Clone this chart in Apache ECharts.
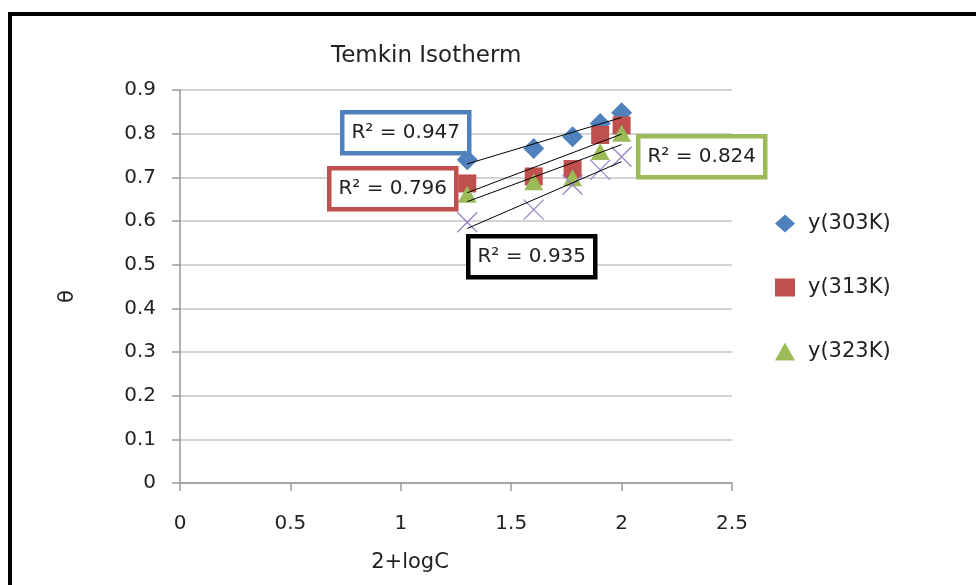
<!DOCTYPE html>
<html>
<head>
<meta charset="utf-8">
<script src="https://cdn.jsdelivr.net/npm/echarts@6/dist/echarts.min.js"></script>
<style>
  html, body { margin: 0; padding: 0; background: #fff; }
  #chart { width: 976px; height: 585px; }
</style>
</head>
<body>
<div id="chart"></div>
<script>
// x values: 2+logC
const logC = [1.301, 1.602, 1.778, 1.903, 2.0];

// theta values per temperature
const theta303 = [0.740, 0.766, 0.793, 0.823, 0.848];
const theta313 = [0.686, 0.702, 0.719, 0.797, 0.819];
const theta323 = [0.661, 0.690, 0.699, 0.759, 0.801];
const theta333 = [0.597, 0.626, 0.683, 0.717, 0.747];

const seriesNames = ["y(303K)", "y(313K)", "y(323K)", "y(333K)"];
const r2Labels = ["R² = 0.947", "R² = 0.796", "R² = 0.824", "R² = 0.935"];

const FONT = "DejaVu Sans";

// least squares line over the x range of the data
function trendLine(xs, ys) {
  const n = xs.length;
  const mx = xs.reduce((a, b) => a + b, 0) / n;
  const my = ys.reduce((a, b) => a + b, 0) / n;
  let sxy = 0, sxx = 0;
  for (let i = 0; i < n; i++) {
    sxy += (xs[i] - mx) * (ys[i] - my);
    sxx += (xs[i] - mx) * (xs[i] - mx);
  }
  const k = sxy / sxx;
  const x0 = Math.min(...xs), x1 = Math.max(...xs);
  return [[x0, my + k * (x0 - mx)], [x1, my + k * (x1 - mx)]];
}

const pairs = (ys) => logC.map((x, i) => [x, ys[i]]);

const chart = echarts.init(document.getElementById("chart"));

function scatter(name, ys, symbol, size, color, extra) {
  return Object.assign({
    name: name,
    type: "scatter",
    data: pairs(ys),
    symbol: symbol,
    symbolSize: size,
    itemStyle: { color: color, opacity: 1 },
    z: 3,
  }, extra || {});
}

function trend(ys) {
  return {
    type: "line",
    data: trendLine(logC, ys),
    symbol: "none",
    lineStyle: { color: "#000", width: 1 },
    silent: true,
    z: 5,
  };
}

function r2Box(text, left, top, border) {
  return {
    type: "group",
    left: left,
    top: top,
    z: 20,
    children: [
      {
        type: "rect",
        z: 20,
        shape: { x: 0, y: 0, width: 127, height: 41 },
        style: { fill: "#fff", stroke: border, lineWidth: 4.5 },
      },
      {
        type: "text",
        z: 21,
        x: 63.5,
        y: 21,
        style: {
          text: text,
          font: "20px '" + FONT + "'",
          fill: "#222",
          align: "center",
          verticalAlign: "middle",
        },
      },
    ],
  };
}

const option = {
  backgroundColor: "#fff",
  animation: false,
  textStyle: { fontFamily: FONT },
  title: {
    text: "Temkin Isotherm",
    left: 326,
    top: 40,
    textStyle: { fontFamily: FONT, fontSize: 23, fontWeight: "normal", color: "#222" },
  },
  grid: { left: 180, right: 244, top: 90, bottom: 102 },
  legend: {
    data: seriesNames.slice(0, 3),
    orient: "vertical",
    left: 770,
    top: 208,
    itemGap: 43,
    itemWidth: 20,
    itemHeight: 18,
    textStyle: { fontFamily: FONT, fontSize: 21, color: "#222", padding: [0, 0, 0, 8] },
  },
  xAxis: {
    type: "value",
    min: 0,
    max: 2.5,
    interval: 0.5,
    name: "2+logC",
    nameLocation: "middle",
    nameGap: 69,
    nameTextStyle: { fontFamily: FONT, fontSize: 21, color: "#222", padding: [0, 92, 0, 0] },
    axisLine: { lineStyle: { color: "#999", width: 1.5 } },
    axisTick: { length: 8, lineStyle: { color: "#999", width: 1.5 } },
    axisLabel: { fontFamily: FONT, fontSize: 20, color: "#222", margin: 31 },
    splitLine: { show: false },
  },
  yAxis: {
    type: "value",
    min: 0,
    max: 0.9,
    interval: 0.1,
    name: "θ",
    nameLocation: "middle",
    nameGap: 102,
    nameTextStyle: { fontFamily: FONT, fontSize: 21, color: "#222", padding: [0, 20, 0, 0] },
    axisLine: { show: true, lineStyle: { color: "#999", width: 1.5 } },
    axisTick: { show: true, length: 8, inside: false, lineStyle: { color: "#999", width: 1.5 } },
    axisLabel: {
      fontFamily: FONT, fontSize: 20, color: "#222", margin: 24,
      formatter: (v) => (v === 0 ? "0" : v.toFixed(1)),
    },
    splitLine: { lineStyle: { color: "#c4c4c4", width: 1.5 } },
  },
  graphic: [
    {
      type: "rect",
      z: 100,
      shape: { x: 10, y: 14, width: 1100, height: 700 },
      style: { fill: "none", stroke: "#000", lineWidth: 4 },
    },
    r2Box(r2Labels[0], 340, 110, "#4F81BD"),
    r2Box(r2Labels[1], 327, 166, "#C0504D"),
    r2Box(r2Labels[2], 636, 134, "#9BBB59"),
    r2Box(r2Labels[3], 466, 234, "#000"),
  ],
  series: [
    scatter(seriesNames[0], theta303, "diamond", [21, 21], "#4F81BD"),
    scatter(seriesNames[1], theta313, "rect", [18, 18], "#C0504D"),
    scatter(seriesNames[2], theta323, "triangle", [19, 17], "#9BBB59"),
    scatter(seriesNames[3], theta333, "path://M0,0L10,10M10,0L0,10", [20, 20], "none", {
      itemStyle: { color: "none", borderColor: "#9985c4", borderWidth: 1.3, opacity: 1 },
    }),
    trend(theta303),
    trend(theta313),
    trend(theta323),
    trend(theta333),
  ],
};

chart.setOption(option);
window.addEventListener("resize", () => chart.resize());
</script>
</body>
</html>
